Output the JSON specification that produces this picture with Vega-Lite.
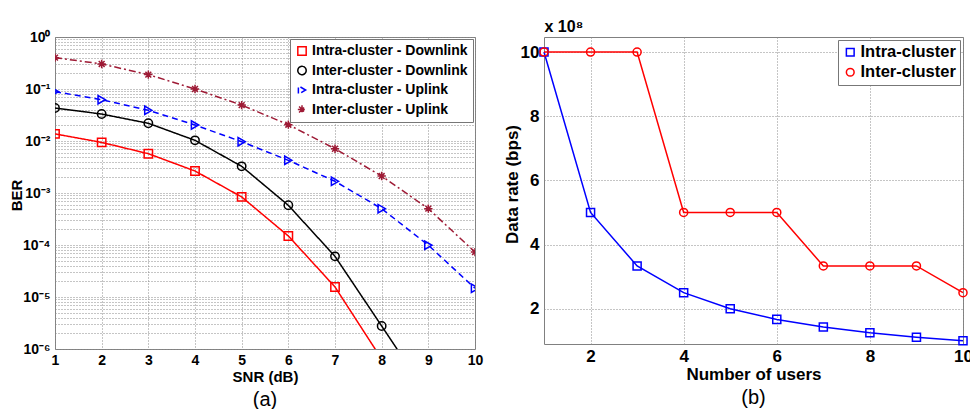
{
  "$schema": "https://vega.github.io/schema/vega-lite/v6.json",
  "autosize": {"type": "pad"},
  "padding": {"left": 8, "top": 17, "right": 0, "bottom": 0},
  "bounds": "flush",
  "spacing": 69,
  "background": "white",
  "config": {
    "font": "Liberation Sans",
    "view": {"stroke": "#808080", "strokeWidth": 1},
    "axis": {
      "grid": true, "gridDash": [1, 2], "gridColor": "#8a8a8a", "gridOpacity": 1,
      "domain": false, "ticks": false,
      "labelFontWeight": "bold", "titleFontWeight": "bold",
      "labelColor": "#000000", "titleColor": "#000000"
    }
  },
  "resolve": {"scale": {"color": "independent", "shape": "independent", "strokeDash": "independent", "x": "independent", "y": "independent"}, "legend": {"color": "independent", "shape": "independent"}},
  "hconcat": [
    {
      "width": 420,
      "height": 312,
      "title": {"text": "(a)", "orient": "bottom", "fontSize": 20, "fontWeight": "normal", "offset": 6, "font": "Liberation Sans"},
      "data": {"values": [
        {"snr": 1, "ber": 0.0137, "series": "Intra-cluster - Downlink"},
        {"snr": 2, "ber": 0.0094, "series": "Intra-cluster - Downlink"},
        {"snr": 3, "ber": 0.0057, "series": "Intra-cluster - Downlink"},
        {"snr": 4, "ber": 0.00265, "series": "Intra-cluster - Downlink"},
        {"snr": 5, "ber": 0.00084, "series": "Intra-cluster - Downlink"},
        {"snr": 6, "ber": 0.000149, "series": "Intra-cluster - Downlink"},
        {"snr": 7, "ber": 0.0000156, "series": "Intra-cluster - Downlink"},
        {"snr": 8, "ber": 0.00000064, "series": "Intra-cluster - Downlink"},
        {"snr": 1, "ber": 0.0431, "series": "Inter-cluster - Downlink"},
        {"snr": 2, "ber": 0.033, "series": "Inter-cluster - Downlink"},
        {"snr": 3, "ber": 0.0219, "series": "Inter-cluster - Downlink"},
        {"snr": 4, "ber": 0.0103, "series": "Inter-cluster - Downlink"},
        {"snr": 5, "ber": 0.00326, "series": "Inter-cluster - Downlink"},
        {"snr": 6, "ber": 0.00058, "series": "Inter-cluster - Downlink"},
        {"snr": 7, "ber": 0.0000605, "series": "Inter-cluster - Downlink"},
        {"snr": 8, "ber": 0.00000277, "series": "Inter-cluster - Downlink"},
        {"snr": 9, "ber": 0.000000125, "series": "Inter-cluster - Downlink"},
        {"snr": 1, "ber": 0.0889, "series": "Intra-cluster - Uplink"},
        {"snr": 2, "ber": 0.0623, "series": "Intra-cluster - Uplink"},
        {"snr": 3, "ber": 0.0389, "series": "Intra-cluster - Uplink"},
        {"snr": 4, "ber": 0.0203, "series": "Intra-cluster - Uplink"},
        {"snr": 5, "ber": 0.0097, "series": "Intra-cluster - Uplink"},
        {"snr": 6, "ber": 0.00425, "series": "Intra-cluster - Uplink"},
        {"snr": 7, "ber": 0.00168, "series": "Intra-cluster - Uplink"},
        {"snr": 8, "ber": 0.0005, "series": "Intra-cluster - Uplink"},
        {"snr": 9, "ber": 0.000099, "series": "Intra-cluster - Uplink"},
        {"snr": 10, "ber": 0.0000147, "series": "Intra-cluster - Uplink"},
        {"snr": 1, "ber": 0.401, "series": "Inter-cluster - Uplink"},
        {"snr": 2, "ber": 0.303, "series": "Inter-cluster - Uplink"},
        {"snr": 3, "ber": 0.189, "series": "Inter-cluster - Uplink"},
        {"snr": 4, "ber": 0.1, "series": "Inter-cluster - Uplink"},
        {"snr": 5, "ber": 0.049, "series": "Inter-cluster - Uplink"},
        {"snr": 6, "ber": 0.0206, "series": "Inter-cluster - Uplink"},
        {"snr": 7, "ber": 0.0071, "series": "Inter-cluster - Uplink"},
        {"snr": 8, "ber": 0.00212, "series": "Inter-cluster - Uplink"},
        {"snr": 9, "ber": 0.0005, "series": "Inter-cluster - Uplink"},
        {"snr": 10, "ber": 0.000073, "series": "Inter-cluster - Uplink"}
      ]},
      "encoding": {
        "x": {"field": "snr", "type": "quantitative",
          "scale": {"domain": [1, 10], "nice": false},
          "axis": {"values": [1, 2, 3, 4, 5, 6, 7, 8, 9, 10], "title": "SNR (dB)", "labelFontSize": 14, "titleFontSize": 15, "labelPadding": 4, "titlePadding": 2, "labelFlush": false}},
        "y": {"field": "ber", "type": "quantitative",
          "scale": {"type": "log", "domain": [0.000001, 1], "nice": false},
          "axis": {
            "values": [0.000001, 0.000002, 0.000003, 0.000004, 0.000005, 0.000006, 0.000007, 0.000008, 0.000009,
                       0.00001, 0.00002, 0.00003, 0.00004, 0.00005, 0.00006, 0.00007, 0.00008, 0.00009,
                       0.0001, 0.0002, 0.0003, 0.0004, 0.0005, 0.0006, 0.0007, 0.0008, 0.0009,
                       0.001, 0.002, 0.003, 0.004, 0.005, 0.006, 0.007, 0.008, 0.009,
                       0.01, 0.02, 0.03, 0.04, 0.05, 0.06, 0.07, 0.08, 0.09,
                       0.1, 0.2, 0.3, 0.4, 0.5, 0.6, 0.7, 0.8, 0.9, 1],
            "labelExpr": "datum.value == 1 ? '10⁰' : datum.value == 0.1 ? '10⁻¹' : datum.value == 0.01 ? '10⁻²' : datum.value == 0.001 ? '10⁻³' : datum.value == 0.0001 ? '10⁻⁴' : datum.value == 0.00001 ? '10⁻⁵' : datum.value == 0.000001 ? '10⁻⁶' : ''",
            "labelOverlap": false, "labelFontSize": 14, "labelPadding": 5,
            "title": "BER", "titleFontSize": 15, "titleX": -39, "titleY": 158,
            "titleAlign": "center", "titleBaseline": "middle", "titleAngle": 270
          }},
        "color": {"field": "series", "type": "nominal",
          "scale": {"domain": ["Intra-cluster - Downlink", "Inter-cluster - Downlink", "Intra-cluster - Uplink", "Inter-cluster - Uplink"],
                    "range": ["#ff0000", "#000000", "#0000ff", "#9e1a35"]},
          "legend": {"title": null, "orient": "top-right", "offset": 2, "fillColor": "white", "strokeColor": "#777777",
                     "padding": 5, "rowPadding": 3.5, "labelFontSize": 14, "labelFontWeight": "bold", "labelColor": "#000000",
                     "symbolSize": 70, "symbolStrokeWidth": 1.5, "labelLimit": 400, "symbolOffset": 0, "labelOffset": 3}}
      },
      "layer": [
        {
          "mark": {"type": "line", "clip": true, "strokeWidth": 1.5},
          "encoding": {
            "strokeDash": {"field": "series", "type": "nominal",
              "scale": {"domain": ["Intra-cluster - Downlink", "Inter-cluster - Downlink", "Intra-cluster - Uplink", "Inter-cluster - Uplink"],
                        "range": [[1, 0], [1, 0], [6, 4], [7, 3, 2, 3]]},
              "legend": null}
          }
        },
        {
          "mark": {"type": "point", "clip": true, "filled": false, "strokeWidth": 1.5, "size": 70, "opacity": 1},
          "encoding": {
            "shape": {"field": "series", "type": "nominal",
              "scale": {"domain": ["Intra-cluster - Downlink", "Inter-cluster - Downlink", "Intra-cluster - Uplink", "Inter-cluster - Uplink"],
                        "range": ["square", "circle", "triangle-right", "M0,-1L0,1M-1,0L1,0M-0.7,-0.7L0.7,0.7M-0.7,0.7L0.7,-0.7"]}}
          }
        }
      ]
    },
    {
      "width": 419,
      "height": 307,
      "title": {"text": "(b)", "orient": "bottom", "fontSize": 20, "fontWeight": "normal", "offset": 6, "font": "Liberation Sans"},
      "data": {"values": [
        {"users": 1, "rate": 1000000000, "scheme": "Intra-cluster"},
        {"users": 2, "rate": 500000000, "scheme": "Intra-cluster"},
        {"users": 3, "rate": 333333333, "scheme": "Intra-cluster"},
        {"users": 4, "rate": 250000000, "scheme": "Intra-cluster"},
        {"users": 5, "rate": 200000000, "scheme": "Intra-cluster"},
        {"users": 6, "rate": 166666667, "scheme": "Intra-cluster"},
        {"users": 7, "rate": 142857143, "scheme": "Intra-cluster"},
        {"users": 8, "rate": 125000000, "scheme": "Intra-cluster"},
        {"users": 9, "rate": 111111111, "scheme": "Intra-cluster"},
        {"users": 10, "rate": 100000000, "scheme": "Intra-cluster"},
        {"users": 1, "rate": 1000000000, "scheme": "Inter-cluster"},
        {"users": 2, "rate": 1000000000, "scheme": "Inter-cluster"},
        {"users": 3, "rate": 1000000000, "scheme": "Inter-cluster"},
        {"users": 4, "rate": 500000000, "scheme": "Inter-cluster"},
        {"users": 5, "rate": 500000000, "scheme": "Inter-cluster"},
        {"users": 6, "rate": 500000000, "scheme": "Inter-cluster"},
        {"users": 7, "rate": 333333333, "scheme": "Inter-cluster"},
        {"users": 8, "rate": 333333333, "scheme": "Inter-cluster"},
        {"users": 9, "rate": 333333333, "scheme": "Inter-cluster"},
        {"users": 10, "rate": 250000000, "scheme": "Inter-cluster"}
      ]},
      "encoding": {
        "y": {"field": "rate", "type": "quantitative",
          "scale": {"domain": [90000000, 1047000000], "nice": false, "zero": false},
          "axis": {"values": [200000000, 400000000, 600000000, 800000000, 1000000000],
            "labelExpr": "format(datum.value / 100000000, 'd')",
            "labelFontSize": 17, "labelPadding": 5,
            "title": "Data rate (bps)", "titleFontSize": 17, "titleX": -32, "titleY": 147,
            "titleAlign": "center", "titleBaseline": "middle", "titleAngle": 270}}
      },
      "resolve": {"axis": {"x": "independent"}},
      "layer": [
        {
          "mark": {"type": "line", "strokeWidth": 1.5},
          "encoding": {
            "x": {"field": "users", "type": "quantitative",
              "scale": {"domain": [1, 10], "nice": false},
              "axis": {"values": [2, 4, 6, 8, 10], "title": "Number of users", "labelFontSize": 17, "titleFontSize": 17, "labelPadding": 4, "titlePadding": 2, "labelFlush": false}},
            "color": {"field": "scheme", "type": "nominal",
              "scale": {"domain": ["Intra-cluster", "Inter-cluster"], "range": ["#0000ff", "#ff0000"]},
              "legend": {"title": null, "orient": "top-right", "offset": 3, "fillColor": "white", "strokeColor": "#777777",
                         "padding": 4, "rowPadding": 3, "labelFontSize": 16.5, "labelFontWeight": "bold", "labelColor": "#000000",
                         "symbolSize": 60, "symbolStrokeWidth": 1.5, "labelLimit": 400, "labelOffset": 2}}
          }
        },
        {
          "mark": {"type": "point", "filled": false, "strokeWidth": 1.5, "size": 65, "opacity": 1},
          "encoding": {
            "x": {"field": "users", "type": "quantitative",
              "scale": {"domain": [1, 10], "nice": false},
              "axis": {"orient": "top", "title": "x 10⁸", "labels": false, "grid": false, "ticks": false, "domain": false,
                       "titleX": 0, "titleY": -3, "titleAlign": "left", "titleBaseline": "bottom", "titleAngle": 0,
                       "titleFontSize": 16, "titleFontWeight": "bold"}},
            "color": {"field": "scheme", "type": "nominal"},
            "shape": {"field": "scheme", "type": "nominal",
              "scale": {"domain": ["Intra-cluster", "Inter-cluster"], "range": ["square", "circle"]}}
          }
        }
      ]
    }
  ]
}
